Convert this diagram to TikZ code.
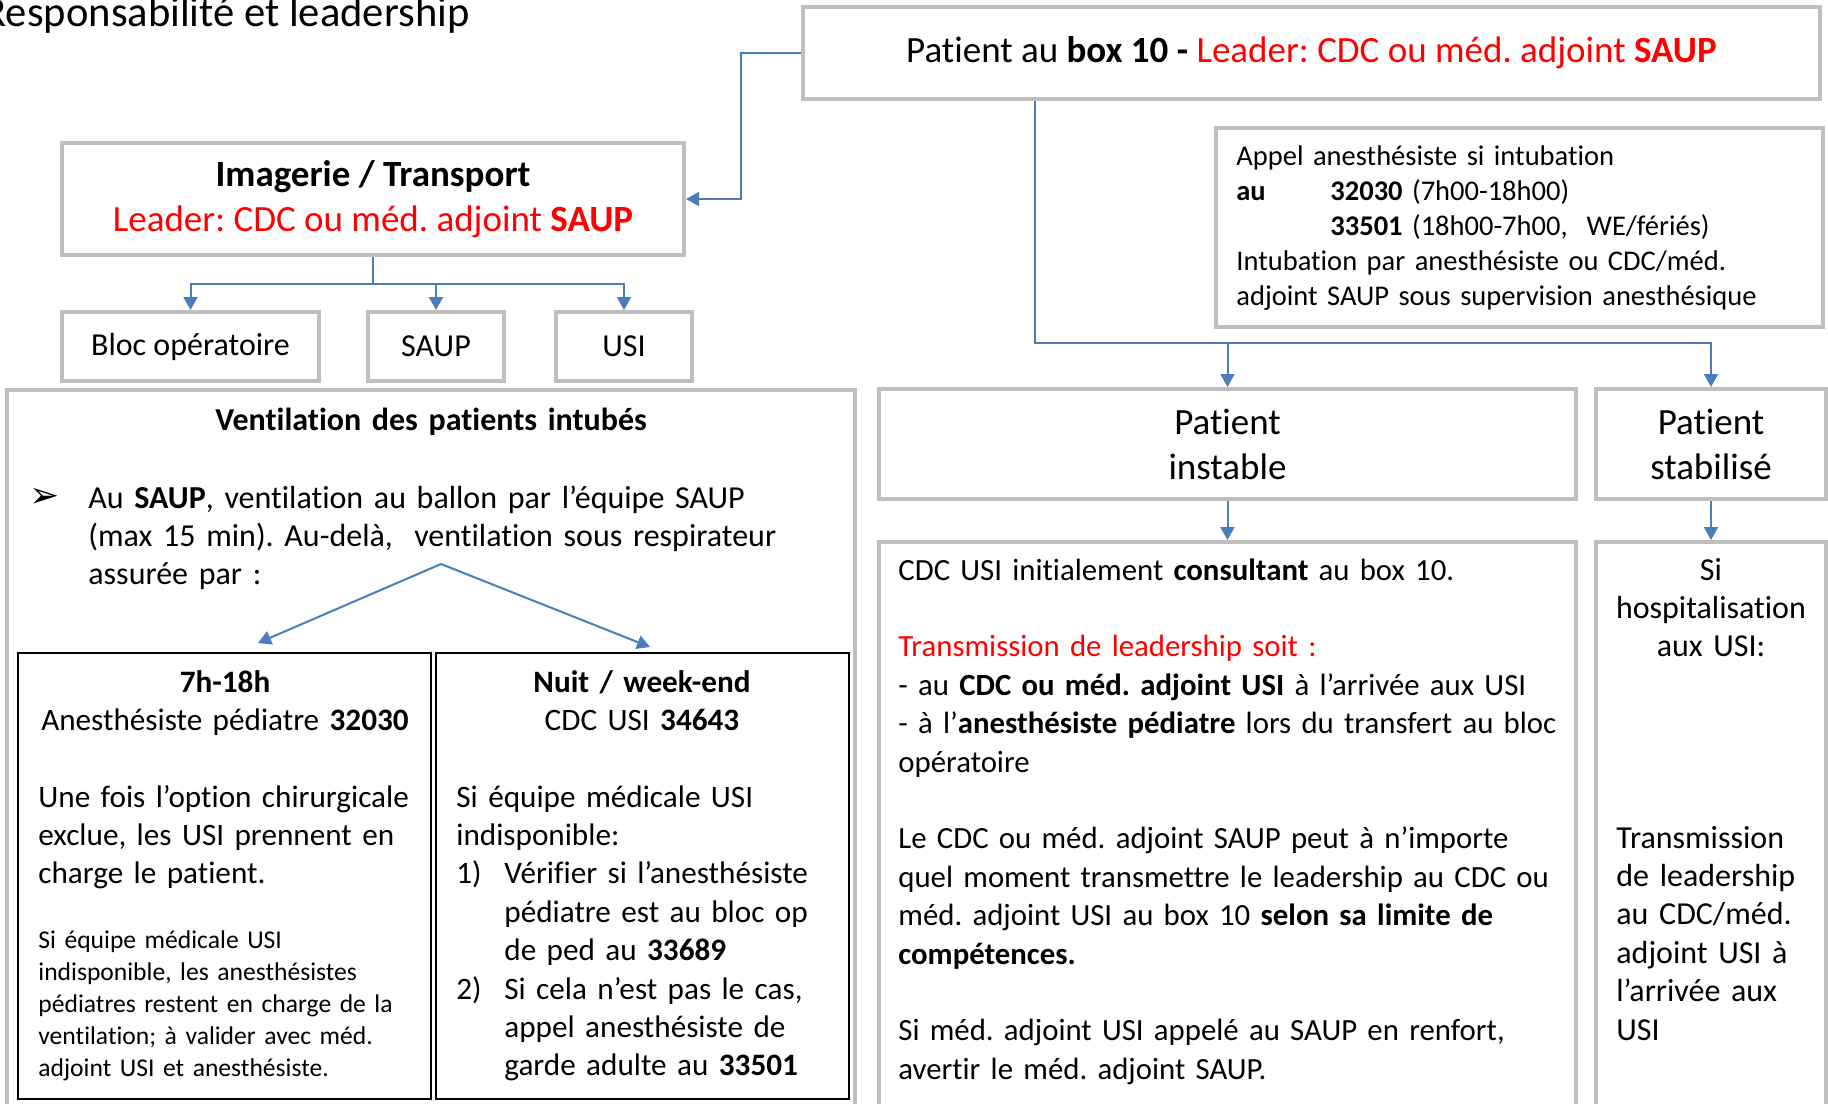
\documentclass[tikz,border=0pt]{standalone}
\usepackage{fontspec}
\setmainfont{Carlito}[RawFeature={-liga;-clig;-calt;-dlig;-rlig}]
\newfontfamily\dingfont{DejaVu Sans}
\usetikzlibrary{arrows.meta}
\definecolor{boxgray}{RGB}{191,191,191}
\definecolor{linkblue}{RGB}{74,126,187}
\newcommand\titretxt{\fontsize{21.3}{25}\selectfont}
\newcommand\grandtxt{\fontsize{18.5}{22.5}\selectfont}
\newcommand\corpstxt{\fontsize{16}{19.2}\selectfont}
\newcommand\cdctxt{\fontsize{15.4}{19.2}\selectfont}
\newcommand\boitetxt{\fontsize{15.6}{19.2}\selectfont}
\newcommand\appeltxt{\fontsize{14.25}{17.5}\selectfont}
\newcommand\petittxt{\fontsize{12.8}{16}\selectfont}
\frenchspacing
\tikzset{
  gbox/.style={draw=boxgray, line width=2pt, inner sep=0pt},
  nbox/.style={draw=black, line width=1.25pt, inner sep=0pt},
  lien/.style={draw=linkblue, line width=1pt, -{Triangle[length=6.5pt,width=7pt]}},
  txt/.style={inner sep=0pt, align=left, anchor=base west, text width=400pt},
  ctxt/.style={inner sep=0pt, align=center, anchor=base, text width=300pt},
}
\begin{document}
\frenchspacing
\begin{tikzpicture}[x=0.5pt, y=-0.5pt]
	\useasboundingbox[fill=white] (0,0) rectangle (1828,1104);
	\node[anchor=base east, inner sep=0pt, font=\titretxt] (titre) at (470,26) {Responsabilité et leadership};

	\node[gbox, minimum width=508.5pt, minimum height=46pt, font=\grandtxt] (top) at (1311.5,53)
		{Patient au \textbf{box 10 -} \textcolor{red}{Leader: CDC ou méd. adjoint \textbf{SAUP}}};
	\node[gbox, minimum width=311pt, minimum height=56pt, font=\grandtxt, align=center] (imag) at (373,199)
		{\textbf{Imagerie / Transport}\\\textcolor{red}{Leader: CDC ou méd. adjoint \textbf{SAUP}}};
	\node[gbox, minimum width=128.5pt, minimum height=34.5pt, font=\corpstxt] (bloc) at (190.5,346.5) {Bloc opératoire};
	\node[gbox, minimum width=68pt, minimum height=34.5pt, font=\corpstxt] (saup) at (436,346.5) {SAUP};
	\node[gbox, minimum width=68pt, minimum height=34.5pt, font=\corpstxt] (usi) at (624,346.5) {USI};

	\draw[lien] (top.west) -- ++(-60,0) |- (imag.east);
	\draw[lien] (imag.south) -- ++(0,27) -| (bloc.north);
	\draw[lien] (imag.south) -- ++(0,27) -| (saup.north);
	\draw[lien] (imag.south) -- ++(0,27) -| (usi.north);

	\node[gbox, minimum width=303.5pt, minimum height=99.5pt] (appel) at (1519.5,227.5) {};
	\node[txt, font=\appeltxt] (appeltxt) at (1236,165) {Appel anesthésiste si intubation\\
		\makebox[47pt][l]{\textbf{au}}\textbf{32030} (7h00-18h00)\\
		\hspace*{47pt}\textbf{33501} (18h00-7h00, ~WE/fériés)\\
		Intubation par anesthésiste ou CDC/méd.\\
		adjoint SAUP sous supervision anesthésique};

	\node[gbox, minimum width=348.5pt, minimum height=55pt, font=\grandtxt, align=center] (inst) at (1227.5,444) {Patient\\instable};
	\node[gbox, minimum width=115pt, minimum height=55pt, font=\grandtxt, align=center] (stab) at (1711,444) {Patient\\stabilisé};
	\coordinate (split) at (1035,343);
	\draw[lien] (top.south -| split) -- (split) -| (stab.north);
	\draw[lien] (split -| inst.north) -- (inst.north);

	\node[gbox, minimum width=348.5pt, minimum height=289pt] (cdc) at (1227.5,831) {};
	\node[gbox, minimum width=115pt, minimum height=289pt] (hosp) at (1711,831) {};
	\draw[lien] (inst.south) -- (cdc.north);
	\draw[lien] (stab.south) -- (hosp.north);

	\node[txt, font=\cdctxt] (cdctxt) at (898,580) {CDC USI initialement \textbf{consultant} au box 10.\\[19.2pt]
		\textcolor{red}{Transmission de leadership soit :}\\
		- au \textbf{CDC ou méd. adjoint USI} à l’arrivée aux USI\\
		- à l’\textbf{anesthésiste pédiatre} lors du transfert au bloc\\
		opératoire\\[19.2pt]
		Le CDC ou méd. adjoint SAUP peut à n’importe\\
		quel moment transmettre le leadership au CDC ou\\
		méd. adjoint USI au box 10 \textbf{selon sa limite de}\\
		\textbf{compétences.}\\[19.2pt]
		Si méd. adjoint USI appelé au SAUP en renfort,\\
		avertir le méd. adjoint SAUP.};
	\node[ctxt, font=\corpstxt, text width=110pt] (hosptitre) at (1711,580) {Si\\hospitalisation\\aux USI:};
	\node[txt, font=\corpstxt] (hosptxt) at (1616,848) {Transmission\\de leadership\\au CDC/méd.\\adjoint USI à\\l’arrivée aux\\USI};

	\node[gbox, minimum width=424pt, minimum height=365pt] (vent) at (431,755) {};
	\node[ctxt, font=\corpstxt] (venttitre) at (431,430) {\textbf{Ventilation des patients intubés}};
	\node[txt, font=\fontsize{18}{20}\dingfont] (puce) at (29,507) {➢};
	\node[txt, font=\corpstxt] (venttxt) at (88,508) {Au \textbf{SAUP}, ventilation au ballon par l’équipe SAUP\\
		(max 15 min). Au-delà, ~ventilation sous respirateur\\
		assurée par :};
	\coordinate (fourche) at (441,564);
	\coordinate (versjour) at (258,643);
	\coordinate (versnuit) at (650,647);
	\draw[lien] (fourche) -- (versjour);
	\draw[lien] (fourche) -- (versnuit);

	\node[nbox, minimum width=206.5pt, minimum height=223pt] (jour) at (224.5,876) {};
	\node[nbox, minimum width=206.5pt, minimum height=223pt] (nuit) at (642.5,876) {};
	\node[ctxt, font=\boitetxt] (jourtitre) at (225,692) {\textbf{7h-18h}\\Anesthésiste pédiatre \textbf{32030}};
	\node[txt, font=\boitetxt] (jourtxt) at (38,807) {Une fois l’option chirurgicale\\exclue, les USI prennent en\\charge le patient.};
	\node[txt, font=\petittxt] (jourpetit) at (38,948) {Si équipe médicale USI\\indisponible, les anesthésistes\\pédiatres restent en charge de la\\ventilation; à valider avec méd.\\adjoint USI et anesthésiste.};
	\node[ctxt, font=\boitetxt] (nuittitre) at (642,692) {\textbf{Nuit / week-end}\\CDC USI \textbf{34643}};
	\node[txt, font=\boitetxt] (nuittxt) at (456,807) {Si équipe médicale USI\\indisponible:\\
		\makebox[24pt][l]{1)}Vérifier si l’anesthésiste\\
		\hspace*{24pt}pédiatre est au bloc op\\
		\hspace*{24pt}de ped au \textbf{33689}\\
		\makebox[24pt][l]{2)}Si cela n’est pas le cas,\\
		\hspace*{24pt}appel anesthésiste de\\
		\hspace*{24pt}garde adulte au \textbf{33501}};
\end{tikzpicture}
\end{document}
